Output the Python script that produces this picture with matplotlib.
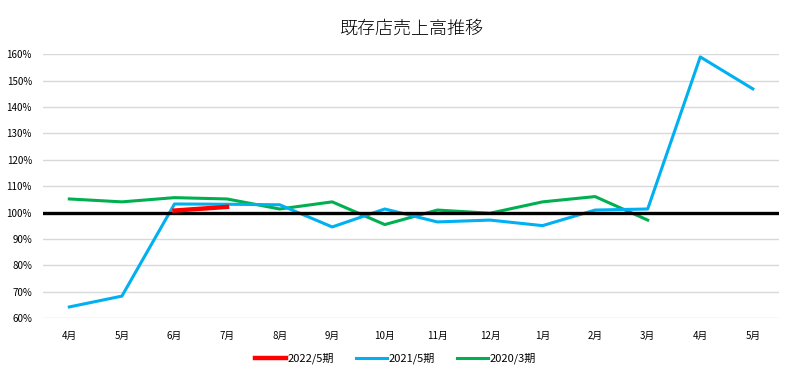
import matplotlib.pyplot as plt
from matplotlib.ticker import FuncFormatter

plt.rcParams['font.family'] = ['Noto Sans CJK JP', 'DejaVu Sans']

months = ["4月", "5月", "6月", "7月", "8月", "9月", "10月", "11月", "12月",
          "1月", "2月", "3月", "4月", "5月"]

# 2022/5期 only has 6月 and 7月
fy2022 = [None, None, 100.8, 102.2] + [None] * 10
fy2021 = [64.3, 68.4, 103.3, 103.2, 103.0, 94.6, 101.4, 96.5, 97.2,
          95.1, 101.0, 101.4, 159.0, 146.9]
fy2020 = [105.2, 104.1, 105.7, 105.2, 101.4, 104.1, 95.5, 101.0, 99.8,
          104.1, 106.1, 97.2]
baseline = 100

fig = plt.figure(figsize=(7.91, 3.81), dpi=100)
ax = fig.add_axes([0.0544, 0.1646, 0.9306, 0.6929])

x = list(range(len(months)))
ax.axhline(baseline, color="black", lw=2.4, zorder=4)
ax.plot(x[:len(fy2020)], fy2020, color="#00B050", lw=2.2, label="2020/3期", zorder=3)
ax.plot(x, fy2021, color="#00B0F0", lw=2.2, label="2021/5期", zorder=3)
ax.plot(x, [v if v is not None else float('nan') for v in fy2022],
        color="#FF0000", lw=3.2, label="2022/5期", zorder=5)

ax.set_xlim(-0.5, len(months) - 0.5)
ax.set_ylim(60, 160)
ax.set_yticks(range(60, 161, 10))
ax.yaxis.set_major_formatter(FuncFormatter(lambda v, p: f"{int(v)}%"))
ax.set_xticks(x)
ax.set_xticklabels(months)
ax.tick_params(axis="both", length=0, labelsize=7)
ax.tick_params(axis="x", pad=9)
ax.tick_params(axis="y", pad=8)
ax.grid(axis="y", color="#D9D9D9", lw=1)
ax.set_axisbelow(True)
for s in ax.spines.values():
    s.set_visible(False)

ax.set_title("既存店売上高推移", fontsize=13, pad=15, fontweight="light")

handles, labels = ax.get_legend_handles_labels()
order = [2, 1, 0]
fig.legend([handles[i] for i in order], [labels[i] for i in order],
           loc="center", bbox_to_anchor=(0.5, 0.06), ncol=3, frameon=False,
           fontsize=8, handlelength=2.8, handletextpad=0.1, columnspacing=2.0)

fig.savefig("out.png", dpi=100)
